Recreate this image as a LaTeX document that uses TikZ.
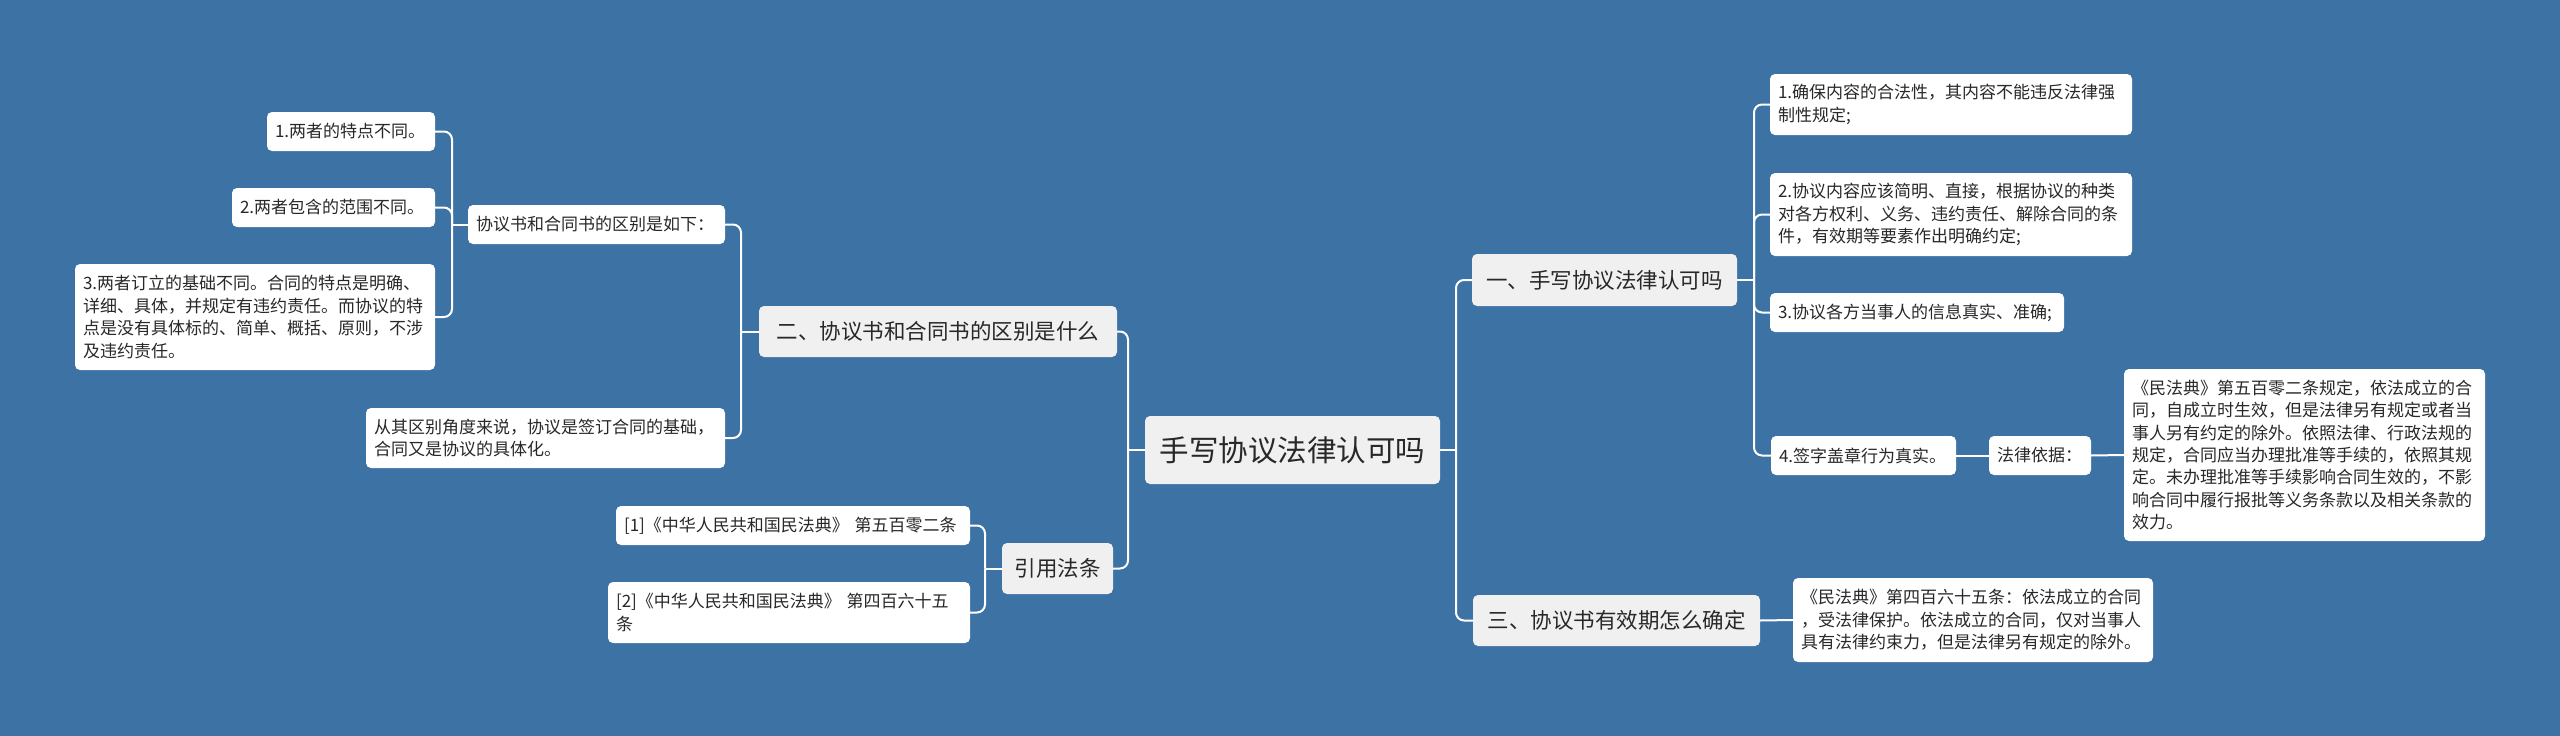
\documentclass[tikz,border=0pt]{standalone}
\usepackage{fontspec}
\setmainfont{Noto Sans CJK SC}
\definecolor{bgc}{RGB}{61,114,165}
\definecolor{branchc}{RGB}{240,240,240}
\definecolor{textc}{RGB}{40,40,40}
\tikzset{
  box/.style={rounded corners=5pt, inner xsep=8pt, inner ysep=0pt, text=textc, anchor=center},
  leaf/.style={box, fill=white, align=left, font=\fontsize{17}{22.4}\selectfont},
  branch/.style={box, fill=branchc, align=center, inner xsep=0pt, font=\fontsize{21.5}{26}\selectfont},
  rootn/.style={box, fill=branchc, align=center, inner xsep=0pt, font=\fontsize{29.5}{36}\selectfont},
  conn/.style={draw=white, line width=2pt, rounded corners=8pt},
}
\begin{document}
\begin{tikzpicture}[x=1pt,y=-1pt]
\fill[bgc] (0,0) rectangle (2560,736);
\useasboundingbox (0,0) rectangle (2560,736);

% root and branches
\node[rootn, minimum width=295pt, minimum height=68pt] (root) at (1292.5,450) {手写协议法律认可吗};
\node[branch, minimum width=358pt, minimum height=51pt] (b2) at (938,331.5) {二、协议书和合同书的区别是什么};
\node[branch, minimum width=111pt, minimum height=51pt] (cite) at (1057.5,568.5) {引用法条};
\node[branch, minimum width=265pt, minimum height=52pt] (b1) at (1604.5,280) {一、手写协议法律认可吗};
\node[branch, minimum width=287pt, minimum height=51pt] (b3) at (1616.5,620.5) {三、协议书有效期怎么确定};

% left side leaves
\node[leaf, text width=241pt, minimum height=39pt] (Q) at (596.5,224.5) {协议书和合同书的区别是如下：};
\node[leaf, text width=152pt, minimum height=39pt] (k1) at (351,131.5) {1.两者的特点不同。};
\node[leaf, text width=187pt, minimum height=39pt] (k2) at (333.5,207.5) {2.两者包含的范围不同。};
\node[leaf, text width=344pt, minimum height=106pt] (k3) at (255,317) {3.两者订立的基础不同。合同的特点是明确、\\详细、具体，并规定有违约责任。而协议的特\\点是没有具体标的、简单、概括、原则，不涉\\及违约责任。};
\node[leaf, text width=343pt, minimum height=60pt] (from) at (545.5,438) {从其区别角度来说，协议是签订合同的基础，\\合同又是协议的具体化。};
\node[leaf, text width=338pt, minimum height=39pt] (c1) at (793,525.5) {[1]《中华人民共和国民法典》 第五百零二条};
\node[leaf, text width=346pt, minimum height=61pt] (c2) at (789,612.5) {[2]《中华人民共和国民法典》 第四百六十五\\条};

% right side leaves
\node[leaf, text width=346pt, minimum height=61pt] (r1) at (1951,104.5) {1.确保内容的合法性，其内容不能违反法律强\\制性规定;};
\node[leaf, text width=346pt, minimum height=83pt] (r2) at (1951,214.5) {2.协议内容应该简明、直接，根据协议的种类\\对各方权利、义务、违约责任、解除合同的条\\件，有效期等要素作出明确约定;};
\node[leaf, text width=278pt, minimum height=39pt] (r3) at (1917,312.5) {3.协议各方当事人的信息真实、准确;};
\node[leaf, text width=169pt, minimum height=39pt] (r4) at (1863.5,455.5) {4.签字盖章行为真实。};
\node[leaf, text width=86pt, minimum height=39pt] (basis) at (2040,455.5) {法律依据：};
\node[leaf, text width=345pt, minimum height=172pt] (law502) at (2304.5,455) {《民法典》第五百零二条规定，依法成立的合\\同，自成立时生效，但是法律另有规定或者当\\事人另有约定的除外。依照法律、行政法规的\\规定，合同应当办理批准等手续的，依照其规\\定。未办理批准等手续影响合同生效的，不影\\响合同中履行报批等义务条款以及相关条款的\\效力。};
\node[leaf, text width=344pt, minimum height=84pt] (law465) at (1973,620) {《民法典》第四百六十五条：依法成立的合同\\，受法律保护。依法成立的合同，仅对当事人\\具有法律约束力，但是法律另有规定的除外。};

% junction points
\coordinate (jr) at (1456,450);
\coordinate (jl) at (1128,450);
\coordinate (j2) at (741,331.5);
\coordinate (jq) at (452,224.5);
\coordinate (jc) at (985,568.5);
\coordinate (j1) at (1754,280);

% connectors
\draw[conn] (root.east) -- (jr);
\draw[conn] (jr) |- (b1.west);
\draw[conn] (jr) |- (b3.west);
\draw[conn] (root.west) -- (jl);
\draw[conn] (jl) |- (b2.east);
\draw[conn] (jl) |- (cite.east);
\draw[conn] (b2.west) -- (j2);
\draw[conn] (j2) |- (Q.east);
\draw[conn] (j2) |- (from.east);
\draw[conn] (Q.west) -- (jq);
\draw[conn] (jq) |- (k1.east);
\draw[conn] (jq) |- (k2.east);
\draw[conn] (jq) |- (k3.east);
\draw[conn] (cite.west) -- (jc);
\draw[conn] (jc) |- (c1.east);
\draw[conn] (jc) |- (c2.east);
\draw[conn] (b1.east) -- (j1);
\draw[conn] (j1) |- (r1.west);
\draw[conn] (j1) |- (r2.west);
\draw[conn] (j1) |- (r3.west);
\draw[conn] (j1) |- (r4.west);
\draw[conn] (r4.east) -- (basis.west);
\draw[conn] (basis.east) -- (law502.west);
\draw[conn] (b3.east) -- (law465.west);
\end{tikzpicture}
\end{document}
